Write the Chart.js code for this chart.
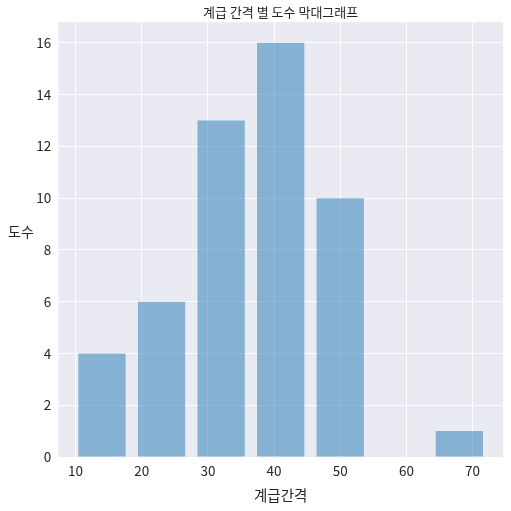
<!DOCTYPE html>
<html>
<head>
<meta charset="utf-8">
<script src="https://cdn.jsdelivr.net/npm/chart.js@4.4.0/dist/chart.umd.min.js"></script>
<style>
  html, body { margin: 0; padding: 0; background: #fff; }
</style>
</head>
<body>
<canvas id="myChart" width="511" height="511"></canvas>
<script>
// data
const binCenters = [14, 23, 32, 41, 50, 59, 68];
const counts = [4, 6, 13, 16, 10, 0, 1];
const xTicks = [10, 20, 30, 40, 50, 60, 70];
const yTicks = [0, 2, 4, 6, 8, 10, 12, 14, 16];

const FONT = '"Noto Sans CJK KR", "Noto Sans", sans-serif';
const TEXT = '#262626';

// seaborn style plot background + horizontal y label
const plotBg = {
    id: 'plotBg',
    beforeDraw(chart) {
        const { ctx, chartArea: a } = chart;
        ctx.save();
        ctx.fillStyle = '#EAEAF2';
        ctx.fillRect(a.left, a.top, a.right - a.left, a.bottom - a.top);
        ctx.restore();
    },
    afterDraw(chart) {
        const ctx = chart.ctx;
        ctx.save();
        ctx.font = '14px ' + FONT;
        ctx.fillStyle = TEXT;
        ctx.textAlign = 'center';
        ctx.textBaseline = 'middle';
        ctx.fillText('도수', 21, 232);
        ctx.restore();
    }
};

const ctx = document.getElementById('myChart').getContext('2d');
new Chart(ctx, {
    type: 'bar',
    data: {
        datasets: [{
            label: '도수',
            data: binCenters.map((x, i) => ({ x: x, y: counts[i] })),
            backgroundColor: 'rgba(31, 119, 180, 0.5)',
            borderWidth: 0,
            categoryPercentage: 1,
            barPercentage: 0.794
        }]
    },
    options: {
        responsive: false,
        animation: false,
        layout: { padding: { left: 0, right: 8, top: 0, bottom: 0 } },
        plugins: {
            legend: { display: false },
            tooltip: { enabled: false },
            title: {
                display: true,
                text: '계급 간격 별 도수 막대그래프',
                fullSize: false,
                color: TEXT,
                font: { family: FONT, size: 13, weight: 'normal' },
                padding: { top: 4.5, bottom: 2 }
            }
        },
        scales: {
            x: {
                type: 'linear',
                min: 7.39,
                max: 74.6,
                offset: false,
                grid: { color: '#ffffff', lineWidth: 1, drawTicks: false, offset: false },
                border: { display: false },
                ticks: {
                    color: TEXT,
                    font: { family: FONT, size: 13.5 },
                    padding: 6
                },
                afterBuildTicks: s => { s.ticks = xTicks.map(v => ({ value: v })); },
                afterFit: s => { s.height = 54; },
                title: {
                    display: true,
                    text: '계급간격',
                    color: TEXT,
                    font: { family: FONT, size: 14.5 },
                    padding: { top: 0, bottom: 7 }
                }
            },
            y: {
                min: 0,
                max: 16.8,
                grid: { color: '#ffffff', lineWidth: 1, drawTicks: false },
                border: { display: false },
                ticks: {
                    color: TEXT,
                    font: { family: FONT, size: 13.5 },
                    padding: 7
                },
                afterBuildTicks: s => { s.ticks = yTicks.map(v => ({ value: v })); },
                afterFit: s => { s.width = 58.3; }
            }
        }
    },
    plugins: [plotBg]
});
</script>
</body>
</html>
